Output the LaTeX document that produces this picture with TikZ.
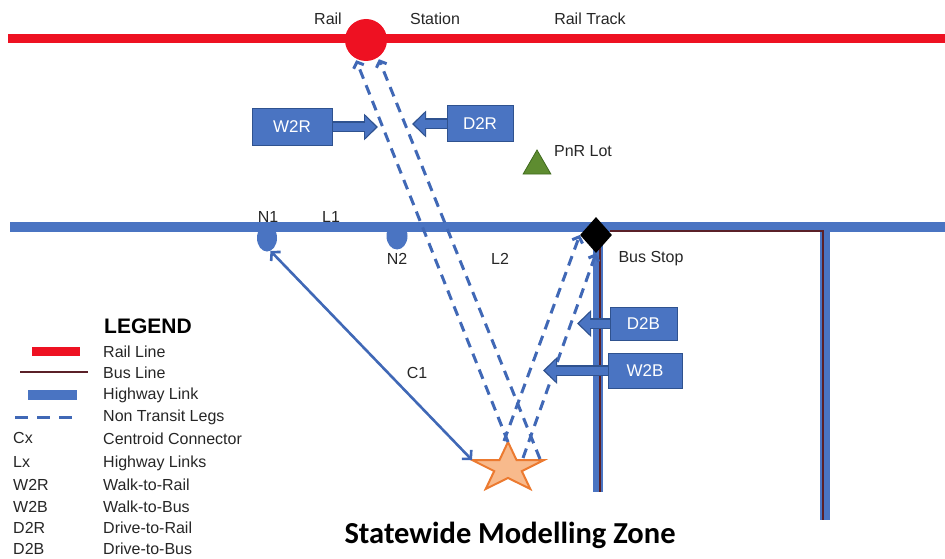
\documentclass[tikz,border=0pt]{standalone}
\usepackage{fontspec}
\setmainfont{Liberation Sans}
\newfontfamily\calib{Carlito}
\usetikzlibrary{arrows.meta,shapes.geometric}
\definecolor{railred}{HTML}{EE1122}
\definecolor{hwblue}{HTML}{4A74C2}
\definecolor{ntblue}{HTML}{4068B6}
\definecolor{boxedge}{HTML}{2F528F}
\definecolor{busbrown}{HTML}{5A2028}
\definecolor{starfill}{HTML}{F8BA8C}
\definecolor{staredge}{HTML}{EC7A30}
\definecolor{pnrgreen}{HTML}{5E8C30}
\definecolor{pnredge}{HTML}{3F6A1E}
\definecolor{txt}{HTML}{262626}
\begin{document}
\begin{tikzpicture}[x=1pt,y=-1pt,
  lbl/.style={font=\fontsize{16}{18}\selectfont, text=txt, inner sep=0pt},
  legtxt/.style={font=\fontsize{16}{18}\selectfont, text=txt, inner sep=0pt, anchor=west},
  modebox/.style={draw=boxedge, fill=hwblue, line width=1pt, text=white,
    font=\fontsize{17}{19}\selectfont, inner sep=0pt},
  railline/.style={draw=railred, line width=9pt},
  hwy/.style={draw=hwblue, line width=10pt},
  busline/.style={draw=busbrown, line width=1.8pt},
  ntleg/.style={draw=ntblue, line width=3pt, dash pattern=on 10pt off 7pt},
  legtip/.style={-{Straight Barb[length=5pt,width=11pt]}},
  connector/.style={draw=ntblue, line width=2.6pt,
    {Straight Barb[length=6pt,width=13pt]}-{Straight Barb[length=6pt,width=13pt]}},
  blockarrow/.style={draw=boxedge, line width=11pt, -{Triangle[length=14pt,width=26pt]},
    postaction={draw=hwblue, line width=8pt, -{Triangle[length=11pt,width=21pt]}, shorten >=2pt}}
]
\useasboundingbox (0,0) rectangle (945,559);

% ---------- lines ----------
\coordinate (railW) at (8,39);
\coordinate (railE) at (945,39);
\draw[railline] (railW) -- (railE);

\coordinate (hwyW) at (10,227);
\coordinate (hwyE) at (945,227);
\coordinate (vL) at (598,227);
\coordinate (vLend) at (598,492);
\coordinate (vR) at (825,227);
\coordinate (vRend) at (825,520);
\draw[hwy] (hwyW) -- (hwyE);
\draw[hwy] (vL) -- (vLend);
\draw[hwy] (vR) -- (vRend);

\coordinate (busA) at (610,231);
\coordinate (busB) at (823,231);
\coordinate (busC) at (823,520);
\coordinate (busD) at (600,245);
\coordinate (busE) at (600,492);
\draw[busline] (busA) -- (busB) -- (busC);
\draw[busline] (busD) -- (busE);

% ---------- nodes ----------
\node[circle, fill=railred, minimum size=42pt, inner sep=0pt] (station) at (366,40) {};
\node[ellipse, fill=hwblue, minimum width=20pt, minimum height=27pt, inner sep=0pt] (n1) at (267,238) {};
\node[ellipse, fill=hwblue, minimum width=21pt, minimum height=27pt, inner sep=0pt] (n2) at (397,236) {};
\node[diamond, fill=black, minimum width=32pt, minimum height=36pt, inner sep=0pt] (busstop) at (596,235) {};
\node[regular polygon, regular polygon sides=3, fill=pnrgreen, draw=pnredge, line width=0.8pt,
  minimum size=32pt, inner sep=0pt] (pnr) at (537,166) {};

% zone centroid (star)
\coordinate (starTop) at (508,442);
\coordinate (starL) at (472,460);
\coordinate (starR) at (540,459);
\coordinate (starIR) at (523,458);
\coordinate (starTL) at (504,441);
\draw[fill=starfill, draw=staredge, line width=2pt, line join=miter]
  (508,442) -- (516.5,460) -- (544,460) -- (521.8,471.1) -- (530.3,489)
  -- (508,477.9) -- (485.7,489) -- (494.2,471.1) -- (472,460) -- (499.5,460) -- cycle;

% ---------- non transit legs ----------
\draw[ntleg, legtip, shorten >=2pt] (starTop) -- (station.-120);
\draw[ntleg, legtip, shorten >=2pt] (starR) -- (station.-55);
\draw[ntleg, legtip] (starTL) -- (busstop.west);
\draw[ntleg, legtip] (starIR) -- (busstop.south);

% centroid connector
\draw[connector] (n1.-75) -- (starL);

% ---------- mode boxes ----------
\node[modebox, minimum width=80pt, minimum height=37pt] (w2r) at (292,127) {W2R};
\node[modebox, minimum width=66pt, minimum height=36pt] (d2r) at (480,124) {D2R};
\node[modebox, minimum width=67pt, minimum height=33pt] (d2b) at (643.5,323.5) {D2B};
\node[modebox, minimum width=74pt, minimum height=35pt] (w2b) at (645,370.5) {W2B};
\coordinate (tW2R) at (378,127);
\coordinate (tD2R) at (412,124);
\coordinate (tD2B) at (577,323.5);
\coordinate (tW2B) at (543,370.5);
\draw[blockarrow] (w2r.east) -- (tW2R);
\draw[blockarrow] (d2r.west) -- (tD2R);
\draw[blockarrow] (d2b.west) -- (tD2B);
\draw[blockarrow] (w2b.west) -- (tW2B);

% ---------- labels ----------
\node[lbl] (lRail) at (328,19) {Rail};
\node[lbl] (lStation) at (435,19) {Station};
\node[lbl] (lTrack) at (590,19) {Rail Track};
\node[lbl] (lPnR) at (583,151) {PnR Lot};
\node[lbl] (lN1) at (268,217) {N1};
\node[lbl] (lL1) at (331,217) {L1};
\node[lbl] (lN2) at (397,259) {N2};
\node[lbl] (lL2) at (500,259) {L2};
\node[lbl] (lC1) at (417,373) {C1};
\node[lbl] (lBus) at (651,259) {Bus Stop};

% ---------- legend ----------
\node[anchor=west, inner sep=0pt, font=\bfseries\fontsize{21}{24}\selectfont] (legT) at (104,326) {LEGEND};
\draw[railline] (32,351) -- (80,351);
\draw[busline, line width=2pt] (20,372) -- (88,372);
\draw[hwy] (28,395) -- (77,395);
\draw[ntleg, dash pattern=on 13pt off 9pt] (15,417) -- (78,417);
\node[legtxt] (g1) at (103,352) {Rail Line};
\node[legtxt] (g2) at (103,373) {Bus Line};
\node[legtxt] (g3) at (103,395) {Highway Link};
\node[legtxt] (g4) at (103,417) {Non Transit Legs};
\node[legtxt] (g5) at (103,439) {Centroid Connector};
\node[legtxt] (g6) at (103,463) {Highway Links};
\node[legtxt] (g7) at (103,485) {Walk-to-Rail};
\node[legtxt] (g8) at (103,507) {Walk-to-Bus};
\node[legtxt] (g9) at (103,528) {Drive-to-Rail};
\node[legtxt] (g10) at (103,549) {Drive-to-Bus};
\node[legtxt] (a5) at (13,438) {Cx};
\node[legtxt] (a6) at (13,462) {Lx};
\node[legtxt] (a7) at (13,485) {W2R};
\node[legtxt] (a8) at (13,507) {W2B};
\node[legtxt] (a9) at (13,528) {D2R};
\node[legtxt] (a10) at (13,549) {D2B};

% ---------- title ----------
\node[inner sep=0pt, font=\calib\bfseries\fontsize{30.5}{33}\selectfont, text=black] (title) at (510,535) {Statewide Modelling Zone};
\end{tikzpicture}
\end{document}
